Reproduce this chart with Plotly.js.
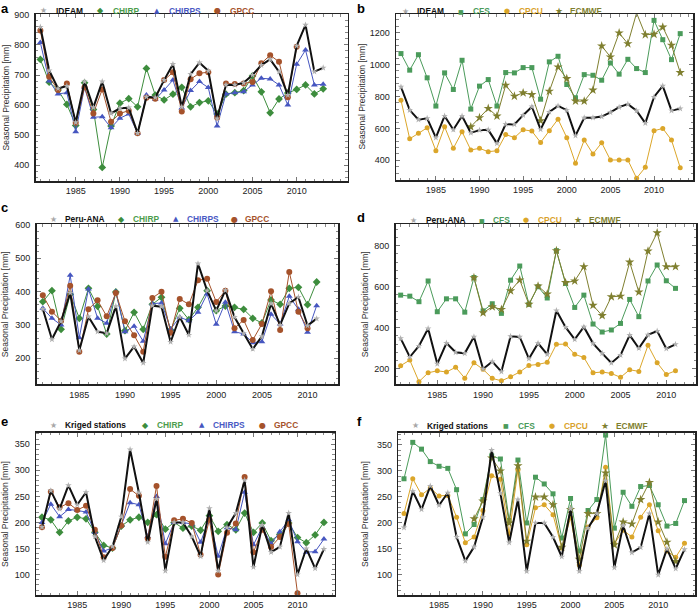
<!DOCTYPE html>
<html><head><meta charset="utf-8">
<script src="https://cdn.plot.ly/plotly-3.0.1.min.js"></script>
<style>html,body{margin:0;padding:0;background:#fff}#chart{width:700px;height:608px}</style>
</head><body><div id="chart"></div>
<script>
// ---------- data ----------
const yearsLong  = [1981,1982,1983,1984,1985,1986,1987,1988,1989,1990,1991,1992,1993,1994,1995,1996,1997,1998,1999,2000,2001,2002,2003,2004,2005,2006,2007,2008,2009,2010,2011,2012,2013];
const yearsShort = [1981,1982,1983,1984,1985,1986,1987,1988,1989,1990,1991,1992,1993,1994,1995,1996,1997,1998,1999,2000,2001,2002,2003,2004,2005,2006,2007,2008,2009,2010,2011];
const yearTicks  = [1985,1990,1995,2000,2005,2010];

// Colombia (panels a, b)
const ideam   = [860,715,655,663,542,678,592,678,572,589,591,506,627,625,683,736,594,703,741,714,555,667,667,674,700,733,752,711,633,797,867,711,724];
const chirpA  = [752,676,650,602,532,674,585,392,530,606,621,594,722,633,617,636,659,594,608,614,570,636,641,648,697,644,574,620,640,652,667,637,654];
const chirpsA = [808,680,637,641,511,659,559,561,524,556,570,506,633,619,650,683,590,648,678,658,530,637,641,644,667,689,687,667,600,736,783,667,669];
const gpccA   = [848,694,650,672,541,659,572,652,544,572,581,506,624,621,683,709,578,686,706,709,558,672,670,672,677,739,766,744,626,794,null,null,null];
const cfsB    = [1069,965,1062,917,740,948,844,1027,721,865,906,740,950,948,981,981,783,1017,1052,875,792,937,933,902,1010,940,1033,975,950,1277,1156,1031,1194];
const cpcuB   = [777,535,569,604,460,610,475,579,465,475,454,460,562,542,592,583,512,585,658,542,381,527,440,510,402,402,402,288,356,585,600,527,354];
const ecmwfB  = [null,null,null,null,null,null,null,null,610,667,725,677,871,802,823,812,648,833,985,912,771,771,840,1117,1048,1198,1131,1323,1187,1190,1235,1121,950];

// Peru (panels c, d)
const peruAna = [348,257,311,396,224,325,280,275,356,199,235,186,358,355,249,324,270,484,403,343,404,324,275,228,266,364,300,365,384,298,319];
const chirpC  = [370,403,287,392,320,410,356,273,399,283,338,287,362,383,285,350,316,353,403,343,357,353,347,320,306,375,362,410,413,361,429];
const chirpsC = [350,320,300,449,262,408,320,305,400,280,296,251,364,366,288,323,313,338,393,302,368,280,273,247,250,332,303,386,347,278,358];
const gpccC   = [389,340,313,418,220,347,374,326,396,311,269,220,381,400,277,378,362,434,439,369,403,290,315,255,303,401,285,459,340,290,null];
const cfsD    = [559,554,527,628,478,541,541,476,645,482,517,470,632,701,514,600,545,776,616,499,559,418,379,389,421,538,454,628,706,629,592];
const cpcuD   = [215,242,137,180,190,184,207,154,229,197,153,141,161,184,216,221,231,319,320,270,255,180,184,177,158,195,187,314,229,172,190];
const ecmwfD  = [null,null,null,null,null,null,null,null,644,473,502,489,580,633,514,603,564,776,620,628,698,509,459,551,554,720,574,774,863,698,698];

// Ecuador (panels e, f)
const kriged  = [191,261,226,271,234,258,173,127,154,211,340,257,162,245,107,200,200,173,135,227,107,190,218,281,114,195,143,153,218,100,150,112,149];
const chirpE  = [210,205,181,203,210,207,181,156,151,193,205,210,200,215,187,200,189,193,185,213,183,196,186,218,181,199,165,177,199,171,161,176,200];
const chirpsE = [200,235,211,225,223,220,181,145,151,194,238,234,173,250,159,200,200,197,162,208,135,190,186,258,157,191,159,182,205,163,143,144,168];
const gpccE   = [191,259,229,237,224,232,186,133,151,194,264,251,169,270,134,204,207,199,138,205,100,180,198,287,143,186,153,172,197,64,null,null,null];
const cfsF    = [285,355,342,318,309,305,264,179,197,245,329,323,205,321,200,288,275,256,171,247,146,224,245,369,190,259,232,270,272,235,194,199,243];
const cpcuF   = [218,285,254,267,252,253,211,162,173,224,291,284,179,302,158,229,235,216,152,210,119,192,210,307,160,186,173,211,235,185,146,134,161];
const ecmwfF  = [null,null,null,null,null,null,null,null,208,242,325,300,200,310,165,250,250,235,153,226,130,218,218,296,158,202,198,245,278,202,163,126,null];

const panelLetters = ['a','b','c','d','e','f'];
const yTitle = 'Seasonal Precipitation [mm]';

// ---------- styles ----------
const W = 700, H = 608;
const COL = {
  obs:'#111111', obsMk:'#b0b0b0',
  chirp:'#3d8d3d', chirps:'#4656c0', gpcc:'#a5522b',
  cfs:'#4b9b5b', cpcu:'#dba62a', ecmwf:'#7f7f2f'
};
const TXT = {obs:'#111111', chirp:'#4c9c4c', chirps:'#4a5ac4', gpcc:'#a5522b', cfs:'#4b9b5b', cpcu:'#d9a22a', ecmwf:'#7f7f2f'};
const STY = {
  obs:   {symbol:'star', size:5, width:2},
  chirp: {symbol:'diamond', size:6, width:1},
  chirps:{symbol:'triangle-up', size:6, width:1},
  gpcc:  {symbol:'circle', size:6, width:1},
  cfs:   {symbol:'square', size:5, width:1},
  cpcu:  {symbol:'circle', size:5, width:1},
  ecmwf: {symbol:'star', size:7, width:1}
};
const GLYPH = {obs:['★',8,'#a8a8a8'], chirp:['◆',8,null], chirps:['▲',7,null], gpcc:['●',8,null], cfs:['■',6,null], cpcu:['●',7,null], ecmwf:['★',9,null]};

// panel frames in px: [left,right], [top,bottom], x range, y range, y dtick, y minor, y-title x, x label standoff
const panels = [
  {fx:[35.5,347.5], fy:[14,181],    xr:[1980.45,2015.75], yr:[346.7,903.3], dt:100, mn:20, tx:5,     so:1},
  {fx:[396,693.3],  fy:[14,180],    xr:[1980.43,2014.5],  yr:[276.6,1317],  dt:200, mn:40, tx:361.5, so:1},
  {fx:[36.7,338.3], fy:[224,384.3], xr:[1980.33,2013.37], yr:[122,603],     dt:100, mn:20, tx:5,     so:1},
  {fx:[395.7,696],  fy:[224,384.3], xr:[1980.46,2013.24], yr:[124,906],     dt:200, mn:40, tx:365,   so:1},
  {fx:[36,334.5],   fy:[432.7,595.2], xr:[1980.32,2014.2], yr:[60.4,372.2], dt:50,  mn:10, tx:5,     so:0},
  {fx:[398.3,695],  fy:[432.7,595.2], xr:[1980.35,2014.2], yr:[61,373.6],   dt:50,  mn:10, tx:365,   so:0}
];

// series per panel (drawn in this order; observations last so the black line is on top)
const series = [
  [['chirp',yearsLong,chirpA],['chirps',yearsLong,chirpsA],['gpcc',yearsLong,gpccA],['obs',yearsLong,ideam]],
  [['cfs',yearsLong,cfsB],['cpcu',yearsLong,cpcuB],['ecmwf',yearsLong,ecmwfB],['obs',yearsLong,ideam]],
  [['chirp',yearsShort,chirpC],['chirps',yearsShort,chirpsC],['gpcc',yearsShort,gpccC],['obs',yearsShort,peruAna]],
  [['cfs',yearsShort,cfsD],['cpcu',yearsShort,cpcuD],['ecmwf',yearsShort,ecmwfD],['obs',yearsShort,peruAna]],
  [['chirp',yearsLong,chirpE],['chirps',yearsLong,chirpsE],['gpcc',yearsLong,gpccE],['obs',yearsLong,kriged]],
  [['cfs',yearsLong,cfsF],['cpcu',yearsLong,cpcuF],['ecmwf',yearsLong,ecmwfF],['obs',yearsLong,kriged]]
];

// legends: [key, label, markerX, textX], row y
const legends = [
  {y:10.5, items:[['obs','IDEAM',43.3,54],['chirp','CHIRP',100.7,111],['chirps','CHIRPS',156.7,166.7],['gpcc','GPCC',217.3,228.3]]},
  {y:11.5, items:[['obs','IDEAM',405,415],['cfs','CFS',460.7,471],['cpcu','CPCU',506.7,516.7],['ecmwf','ECMWF',559,568]]},
  {y:219,  items:[['obs','Peru-ANA',53.3,63.3],['chirp','CHIRP',121.7,130.7],['chirps','CHIRPS',176,185],['gpcc','GPCC',235,243.3]]},
  {y:220,  items:[['obs','Peru-ANA',413.3,424],['cfs','CFS',481.7,490.7],['cpcu','CPCU',526,535.7],['ecmwf','ECMWF',577.7,586.7]]},
  {y:425,  items:[['obs','Kriged stations',53.3,63.3],['chirp','CHIRP',145,155],['chirps','CHIRPS',201.7,210.7],['gpcc','GPCC',262.3,271.7]]},
  {y:425.5,items:[['obs','Kriged stations',415,425],['cfs','CFS',505.7,515.7],['cpcu','CPCU',551.7,561.7],['ecmwf','ECMWF',605,614.3]]}
];
// panel letters: [x, top y]
const letterPos = [[0,0],[356,0],[0,199],[356,209],[0,413],[356,413]];

// ---------- build ----------
const FONT = 'Liberation Sans, Arial, Helvetica, sans-serif';
const px = v => v / W;
const py = v => 1 - v / H;
const traces = [];
const layout = {
  width: W, height: H, margin:{l:0,r:0,t:0,b:0},
  paper_bgcolor:'#fff', plot_bgcolor:'#fff', showlegend:false,
  font:{family:FONT, size:9, color:'#222'},
  annotations: []
};

panels.forEach((p, i) => {
  const n = i + 1;
  const xa = 'x' + (n === 1 ? '' : n), ya = 'y' + (n === 1 ? '' : n);
  const xk = 'xaxis' + (n === 1 ? '' : n), yk = 'yaxis' + (n === 1 ? '' : n);
  const common = {
    ticks:'inside', ticklen:4, tickwidth:1, tickcolor:'#777',
    showline:true, linecolor:'#222', linewidth:1.5, mirror:'allticks',
    showgrid:false, zeroline:false, fixedrange:true,
    tickfont:{family:FONT, size:9, color:'#222'}
  };
  layout[xk] = Object.assign({}, common, {
    domain:[px(p.fx[0]), px(p.fx[1])], range:p.xr, anchor:ya,
    tickmode:'array', tickvals:yearTicks, ticktext:yearTicks.map(String), ticklabelstandoff:p.so,
    minor:{tick0:1981, dtick:1, ticks:'inside', ticklen:2.5, tickcolor:'#888', tickwidth:1, showgrid:false}
  });
  layout[yk] = Object.assign({}, common, {
    domain:[py(p.fy[1]), py(p.fy[0])], range:p.yr, anchor:xa,
    tick0:0, dtick:p.dt, ticklabelstandoff:3,
    minor:{dtick:p.mn, ticks:'inside', ticklen:2.5, tickcolor:'#888', tickwidth:1, showgrid:false}
  });

  series[i].forEach(([key, xs, ys]) => {
    const s = STY[key];
    const isObs = key === 'obs';
    traces.push({
      type:'scatter', mode:'lines+markers', x:xs, y:ys, xaxis:xa, yaxis:ya,
      connectgaps:false, cliponaxis:false, hoverinfo:'skip',
      line:{color:COL[key], width:s.width},
      marker:{symbol:s.symbol, size:s.size, color:isObs ? COL.obsMk : COL[key], line:{width:0}}
    });
  });

  // y-axis title
  layout.annotations.push({
    xref:'paper', yref:'paper', x:px(p.tx), y:py((p.fy[0]+p.fy[1])/2),
    text:yTitle, textangle:-90, showarrow:false, xanchor:'center', yanchor:'middle',
    font:{family:FONT, size:8.5, color:'#333'}
  });
  // panel letter
  layout.annotations.push({
    xref:'paper', yref:'paper', x:px(letterPos[i][0]), y:py(letterPos[i][1]),
    text:'<b>' + panelLetters[i] + '</b>', showarrow:false, xanchor:'left', yanchor:'top',
    borderpad:0, font:{family:FONT, size:13, color:'#000'}
  });
  // legend row
  const lg = legends[i];
  lg.items.forEach(([key, label, mx, tx]) => {
    const g = GLYPH[key];
    layout.annotations.push({
      xref:'paper', yref:'paper', x:px(mx), y:py(lg.y), text:g[0], showarrow:false,
      xanchor:'center', yanchor:'middle',
      font:{family:'DejaVu Sans', size:g[1], color:g[2] || COL[key]}
    });
    layout.annotations.push({
      xref:'paper', yref:'paper', x:px(tx), y:py(lg.y), text:'<b>' + label + '</b>', showarrow:false,
      xanchor:'left', yanchor:'middle',
      font:{family:FONT, size:8.4, color:TXT[key]}
    });
  });
});

Plotly.newPlot('chart', traces, layout, {staticPlot:true, displayModeBar:false});
</script>
</body></html>
